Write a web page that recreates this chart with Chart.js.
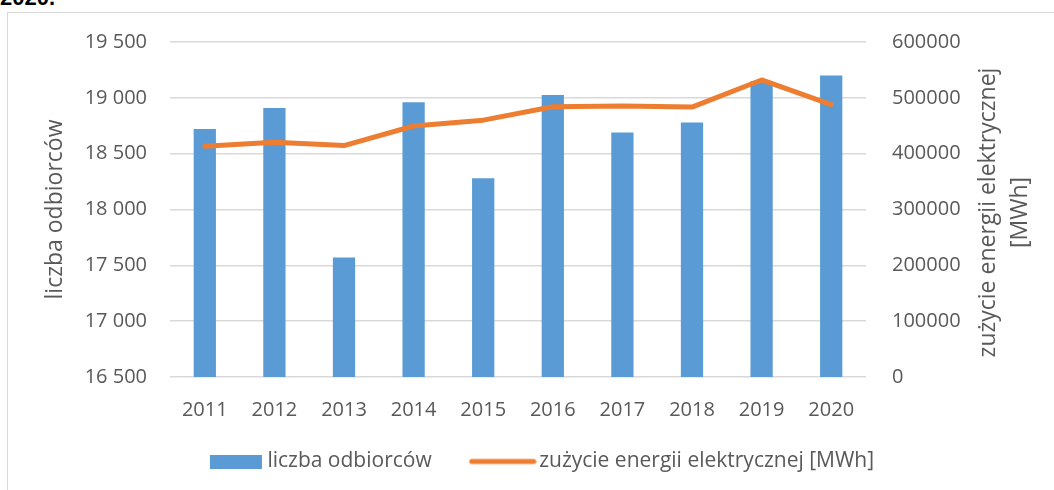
<!DOCTYPE html>
<html lang="pl">
<head>
    <meta charset="UTF-8">
    <title>Liczba odbiorców i zużycie energii</title>
    <script src="https://cdn.jsdelivr.net/npm/chart.js"></script>
    <style>
        html, body {
            margin: 0;
            padding: 0;
            background: #fff;
            overflow: hidden;
        }
        .wrap {
            position: relative;
            width: 1054px;
            height: 490px;
        }
        .frame {
            position: absolute;
            left: 7px;
            top: 12px;
            width: 1100px;
            height: 520px;
            border: 1px solid #d9d9d9;
        }
        .cut {
            position: absolute;
            left: 0;
            top: -13px;
            font: bold 22px "Liberation Sans", sans-serif;
            line-height: 22px;
            color: #000;
        }
        canvas {
            position: absolute;
            left: 0;
            top: 0;
        }
    </style>
</head>
<body>
    <div class="wrap">
        <div class="frame"></div>
        <div class="cut">2020.</div>
        <canvas id="chart" width="1054" height="490"></canvas>
    </div>
    <script>
        const years = ['2011', '2012', '2013', '2014', '2015', '2016', '2017', '2018', '2019', '2020'];
        const customers = [18720, 18910, 17570, 18960, 18280, 19025, 18690, 18780, 19150, 19200];
        const energyMWh = [413500, 420500, 414500, 449500, 460000, 484000, 485500, 483500, 532000, 488000];

        const blue = '#5b9bd5';
        const orange = '#ed7d31';
        const grey = '#595959';
        const font = '"Open Sans", "Noto Sans", sans-serif';

        // legend markers: wider than the box so they sit close to the text
        function legendMark(kind) {
            const c = document.createElement('canvas');
            c.width = 81;
            c.height = 14;
            const g = c.getContext('2d');
            if (kind === 'bar') {
                g.fillStyle = blue;
                g.fillRect(26, 0, 52, 14);
            } else {
                g.strokeStyle = orange;
                g.lineWidth = 5;
                g.lineCap = 'round';
                g.beginPath();
                g.moveTo(16, 7);
                g.lineTo(78, 7);
                g.stroke();
            }
            return c;
        }
        const marks = [legendMark('bar'), legendMark('line')];

        // right axis title reads bottom to top, like in the original
        const rightTitle = {
            id: 'rightTitle',
            afterDraw(chart) {
                const ctx = chart.ctx;
                const area = chart.chartArea;
                const cy = (area.top + area.bottom) / 2 + 3;
                ctx.save();
                ctx.fillStyle = grey;
                ctx.font = '23px ' + font;
                ctx.textAlign = 'center';
                ctx.textBaseline = 'middle';
                [['zużycie energii elektrycznej', area.right + 122], ['[MWh]', area.right + 154]].forEach(([t, x]) => {
                    ctx.save();
                    ctx.translate(x, cy);
                    ctx.rotate(-Math.PI / 2);
                    ctx.fillText(t, 0, 0);
                    ctx.restore();
                });
                ctx.restore();
            }
        };

        function spaced(v) {
            return String(v).replace(/\B(?=(\d{3})+(?!\d))/g, ' ');
        }

        new Chart(document.getElementById('chart').getContext('2d'), {
            data: {
                labels: years,
                datasets: [{
                    type: 'bar',
                    label: 'liczba odbiorców',
                    data: customers,
                    backgroundColor: blue,
                    yAxisID: 'y',
                    barPercentage: 0.32,
                    categoryPercentage: 1,
                    order: 2
                }, {
                    type: 'line',
                    label: 'zużycie energii elektrycznej [MWh]',
                    data: energyMWh,
                    borderColor: orange,
                    backgroundColor: orange,
                    borderWidth: 5,
                    borderCapStyle: 'round',
                    borderJoinStyle: 'round',
                    pointRadius: 0,
                    tension: 0,
                    yAxisID: 'y1',
                    order: 1
                }]
            },
            options: {
                responsive: false,
                animation: false,
                devicePixelRatio: 1,
                layout: {
                    padding: { left: 42, top: 42, right: 30, bottom: 8 }
                },
                plugins: {
                    tooltip: { enabled: false },
                    legend: {
                        position: 'bottom',
                        labels: {
                            usePointStyle: true,
                            pointStyleWidth: 65,
                            boxHeight: 14,
                            padding: 32,
                            color: grey,
                            font: { family: font, size: 21 },
                            sort: (a, b) => a.datasetIndex - b.datasetIndex,
                            generateLabels(chart) {
                                return chart.data.datasets.map((ds, i) => ({
                                    text: ds.label,
                                    datasetIndex: i,
                                    pointStyle: marks[i],
                                    fillStyle: ds.backgroundColor,
                                    strokeStyle: ds.backgroundColor,
                                    lineWidth: 0,
                                    fontColor: grey
                                }));
                            }
                        }
                    }
                },
                scales: {
                    x: {
                        grid: { display: false },
                        border: { display: false },
                        ticks: {
                            color: grey,
                            padding: 13,
                            font: { family: font, size: 20 }
                        },
                        afterFit(scale) { scale.height = 42; }
                    },
                    y: {
                        position: 'left',
                        min: 16500,
                        max: 19500,
                        ticks: {
                            stepSize: 500,
                            padding: 23,
                            color: grey,
                            font: { family: font, size: 20 },
                            callback: v => spaced(v)
                        },
                        grid: { color: '#d9d9d9', lineWidth: 1.5, drawTicks: false },
                        border: { display: false },
                        title: {
                            display: true,
                            text: 'liczba odbiorców',
                            color: grey,
                            padding: 0,
                            font: { family: font, size: 23 }
                        },
                        afterFit(scale) { scale.width = 128; }
                    },
                    y1: {
                        position: 'right',
                        min: 0,
                        max: 600000,
                        ticks: {
                            stepSize: 100000,
                            padding: 26,
                            color: grey,
                            font: { family: font, size: 20 },
                            callback: v => String(v)
                        },
                        grid: { display: false, drawTicks: false },
                        border: { display: false },
                        afterFit(scale) { scale.width = 158; }
                    }
                }
            },
            plugins: [rightTitle]
        });
    </script>
</body>
</html>
